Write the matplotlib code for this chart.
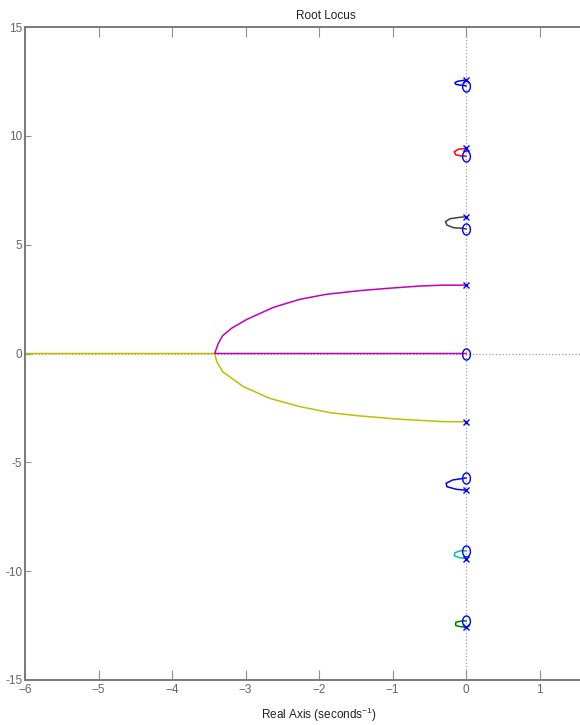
import numpy as np
import matplotlib
matplotlib.use('Agg')
import matplotlib.pyplot as plt
from matplotlib.path import Path

plt.rcParams['font.family'] = ['Liberation Sans', 'DejaVu Sans']
plt.rcParams['mathtext.fontset'] = 'custom'
plt.rcParams['mathtext.rm'] = 'Liberation Sans'
plt.rcParams['mathtext.default'] = 'regular'

# poles (x) and zeros (o)
polos_re = [0, 0, 0, 0, 0, 0, 0, 0]
polos_im = [3.14, -3.14, 6.28, -6.28, 9.42, -9.42, 12.57, -12.57]
zeros_re = [0, 0, 0, 0, 0, 0, 0]
zeros_im = [0, 5.72, -5.72, 9.07, -9.07, 12.29, -12.29]

# branches of the root locus (real, imag)
roxo_re = [0, -0.31, -0.63, -1.08, -1.44, -1.90, -2.26, -2.62, -2.98, -3.19, -3.31, -3.37, -3.42, 0]
roxo_im = [3.14, 3.14, 3.10, 2.99, 2.89, 2.72, 2.49, 2.12, 1.57, 1.16, 0.82, 0.47, 0, 0]
amarelo_re = [0, -0.31, -0.90, -1.44, -1.85, -2.26, -2.67, -3.03, -3.31, -3.39, -3.42, -7]
amarelo_im = [-3.14, -3.13, -3.02, -2.87, -2.72, -2.44, -2.06, -1.52, -0.84, -0.38, 0, 0]
preto_re = [0, -0.08, -0.22, -0.28, -0.26, -0.17, -0.04, 0]
preto_im = [6.28, 6.26, 6.19, 6.06, 5.90, 5.78, 5.75, 5.72]
azul2_re = [0, -0.18, -0.27, -0.26, -0.13, 0]
azul2_im = [-5.72, -5.81, -5.96, -6.12, -6.24, -6.28]
vermelho_re = [0, -0.10, -0.16, -0.14, -0.06, 0]
vermelho_im = [9.42, 9.39, 9.27, 9.13, 9.07, 9.07]
ciano_re = [0, -0.07, -0.15, -0.16, -0.09, 0]
ciano_im = [-9.07, -9.06, -9.15, -9.29, -9.38, -9.42]
azul1_re = [0, -0.12, -0.15, -0.14, -0.08, -0.02, 0]
azul1_im = [12.57, 12.50, 12.44, 12.37, 12.33, 12.31, 12.29]
verde_re = [0, -0.05, -0.14, -0.14, -0.06, 0]
verde_im = [-12.29, -12.28, -12.35, -12.50, -12.56, -12.57]

xticks = [-6, -5, -4, -3, -2, -1, 0, 1]
yticks = [-15, -10, -5, 0, 5, 10, 15]
yticklabels = ['-15', '-10', '-5', '0', '5', '10', '15']

fig = plt.figure(figsize=(5.8, 7.25), dpi=100)
ax = fig.add_axes([25 / 580, 45 / 725, 588 / 580, 653 / 725])

ax.axvline(0, color='#a0a0a0', ls=':', lw=0.9, zorder=1)
ax.axhline(0, color='#a0a0a0', ls=':', lw=0.9, zorder=1)

ax.plot(roxo_re, roxo_im, color=(0.75, 0, 0.75), lw=1.1, zorder=3)
ax.plot(amarelo_re, amarelo_im, color=(0.75, 0.75, 0), lw=1.1, zorder=2)
ax.plot(preto_re, preto_im, color=(0.25, 0.25, 0.25), lw=1.1)
ax.plot(azul2_re, azul2_im, color=(0, 0, 1), lw=1.1)
ax.plot(vermelho_re, vermelho_im, color=(1, 0, 0), lw=1.1)
ax.plot(ciano_re, ciano_im, color=(0, 0.75, 0.75), lw=1.1)
ax.plot(azul1_re, azul1_im, color=(0, 0, 1), lw=1.1)
ax.plot(verde_re, verde_im, color=(0, 0.5, 0), lw=1.1)

# ellipse shaped zero marker (the picture is squeezed sideways)
t = np.linspace(0, 2 * np.pi, 40)
elipse = Path(np.column_stack([0.7 * np.cos(t), np.sin(t)]), closed=True)
ax.plot(zeros_re, zeros_im, ls='none', marker=elipse, ms=8, mfc='none',
        mec=(0, 0, 1), mew=1.0, zorder=5)
ax.plot(polos_re, polos_im, ls='none', marker='x', ms=5, mec=(0, 0, 1),
        mew=1.0, zorder=5)

ax.set_xlim(-6, 2)
ax.set_ylim(-15, 15)
ax.set_xticks(xticks)
ax.set_yticks(yticks)
ax.set_yticklabels(yticklabels)

for s in ax.spines.values():
    s.set_color('#7a7a7a')
    s.set_linewidth(1.4)
ax.tick_params(axis='x', direction='in', length=7, width=0.8, color='#909090',
               top=True, labelsize=8.5, labelcolor='#666666', pad=3)
ax.tick_params(axis='y', direction='in', length=4, width=0.8, color='#909090',
               right=True, labelsize=8.5, labelcolor='#666666', pad=2)

ax.set_title('Root Locus', fontsize=8.5, x=(326 - 25) / 588, pad=6, color='#222222')
ax.set_xlabel('Real Axis (seconds$^{\u2212 1}$)', fontsize=8.5, color='#222222')
ax.xaxis.set_label_coords(0.5, -0.04)

fig.savefig('out.png', dpi=100)
